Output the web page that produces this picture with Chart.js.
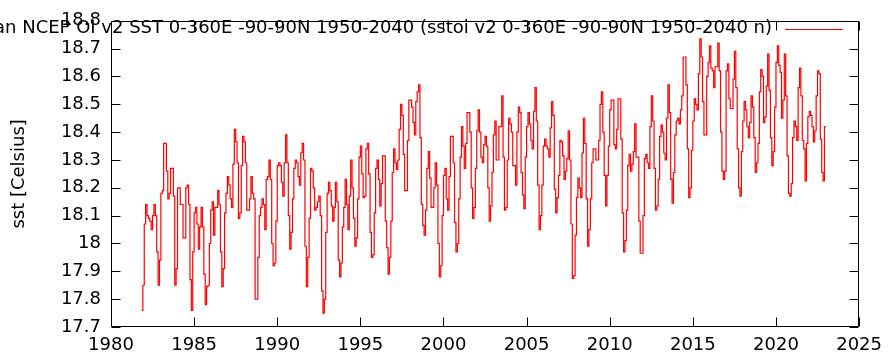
<!DOCTYPE html>
<html><head><meta charset="utf-8">
<script src="https://cdn.jsdelivr.net/npm/chart.js@4.4.1/dist/chart.umd.min.js"></script>
<style>html,body{margin:0;padding:0;background:#fff;overflow:hidden}canvas{display:block}</style>
</head><body>
<canvas id="c" width="890" height="358"></canvas>
<script>
// ---- data (monthly global mean SST) ----
const startYear = 1981, startMonth = 11;
const sstMonthly = [
  17.76, 17.85,
  18.07, 18.14, 18.10, 18.09, 18.08, 18.05, 18.10, 18.14, 18.10, 17.97, 17.85, 17.94,
  18.18, 18.19, 18.36, 18.36, 18.26, 18.16, 18.18, 18.27, 18.27, 18.17, 17.85, 17.91,
  18.20, 18.20, 18.14, 18.14, 18.02, 18.02, 18.20, 18.21, 18.14, 17.87, 17.76, 17.97,
  18.11, 18.13, 18.07, 17.98, 18.06, 18.13, 18.06, 17.89, 17.78, 17.845, 17.85, 18.00,
  18.12, 18.15, 18.03, 18.13, 18.13, 18.19, 18.14, 17.97, 17.845, 17.91, 18.11, 18.18,
  18.24, 18.21, 18.16, 18.13, 18.285, 18.41, 18.365, 18.29, 18.09, 18.11, 18.28, 18.385,
  18.365, 18.29, 18.12, 18.12, 18.16, 18.24, 18.18, 18.16, 17.80, 17.80, 17.95, 18.10,
  18.13, 18.16, 18.14, 18.05, 18.23, 18.24, 18.30, 18.23, 18.00, 17.92, 17.93, 18.08,
  18.28, 18.29, 18.28, 18.22, 18.17, 18.29, 18.39, 18.29, 18.10, 17.98, 18.04, 18.16,
  18.27, 18.30, 18.29, 18.24, 18.21, 18.325, 18.36, 18.30, 17.99, 17.845, 17.95, 18.09,
  18.27, 18.26, 18.20, 18.12, 18.13, 18.15, 18.17, 18.10, 17.83, 17.75, 17.80, 18.04,
  18.18, 18.22, 18.19, 18.135, 18.08, 18.13, 18.22, 18.15, 17.94, 17.88, 17.93, 18.06,
  18.13, 18.23, 18.14, 18.05, 18.17, 18.30, 18.20, 18.09, 17.99, 18.02, 18.16, 18.31,
  18.35, 18.25, 18.165, 18.17, 18.34, 18.36, 18.25, 18.04, 17.95, 17.96, 18.11, 18.27,
  18.30, 18.23, 18.135, 18.215, 18.315, 18.315, 18.08, 17.985, 17.89, 17.95, 18.08, 18.255,
  18.34, 18.29, 18.265, 18.30, 18.41, 18.50, 18.46, 18.32, 18.19, 18.19, 18.37, 18.515,
  18.515, 18.49, 18.435, 18.39, 18.51, 18.545, 18.57, 18.38, 18.14, 18.065, 18.03, 18.12,
  18.27, 18.33, 18.235, 18.13, 18.13, 18.20, 18.29, 18.21, 18.00, 17.88, 17.92, 18.10,
  18.245, 18.27, 18.16, 18.12, 18.24, 18.385, 18.385, 18.29, 18.075, 17.97, 18.00, 18.16,
  18.31, 18.42, 18.35, 18.27, 18.36, 18.47, 18.47, 18.40, 18.20, 18.09, 18.13, 18.27,
  18.405, 18.48, 18.40, 18.31, 18.29, 18.355, 18.385, 18.35, 18.20, 18.08, 18.135, 18.255,
  18.39, 18.44, 18.30, 18.30, 18.42, 18.42, 18.53, 18.31, 18.12, 18.13, 18.30, 18.45,
  18.43, 18.40, 18.28, 18.28, 18.21, 18.40, 18.49, 18.47, 18.255, 18.175, 18.125, 18.31,
  18.42, 18.47, 18.43, 18.37, 18.34, 18.475, 18.56, 18.44, 18.21, 18.05, 18.10, 18.21,
  18.35, 18.375, 18.35, 18.34, 18.31, 18.415, 18.51, 18.46, 18.195, 18.11, 18.165, 18.245,
  18.37, 18.365, 18.315, 18.23, 18.26, 18.305, 18.405, 18.30, 18.07, 17.875, 17.885, 18.03,
  18.165, 18.235, 18.20, 18.165, 18.325, 18.45, 18.36, 18.16, 17.99, 18.05, 18.16, 18.29,
  18.34, 18.34, 18.30, 18.30, 18.37, 18.50, 18.545, 18.40, 18.245, 18.135, 18.245, 18.35,
  18.48, 18.515, 18.515, 18.355, 18.34, 18.41, 18.52, 18.52, 18.375, 18.11, 17.97, 18.01,
  18.12, 18.28, 18.32, 18.26, 18.285, 18.33, 18.43, 18.31, 18.31, 18.08, 17.965, 17.965,
  18.10, 18.305, 18.32, 18.29, 18.27, 18.42, 18.53, 18.44, 18.27, 18.12, 18.135, 18.23,
  18.385, 18.425, 18.40, 18.325, 18.30, 18.45, 18.57, 18.47, 18.23, 18.145, 18.255, 18.39,
  18.44, 18.45, 18.43, 18.48, 18.53, 18.67, 18.67, 18.57, 18.34, 18.165, 18.20, 18.335,
  18.44, 18.52, 18.50, 18.48, 18.61, 18.735, 18.67, 18.51, 18.39, 18.39, 18.60, 18.65,
  18.71, 18.63, 18.62, 18.56, 18.635, 18.635, 18.72, 18.62, 18.40, 18.26, 18.23, 18.26,
  18.62, 18.645, 18.52, 18.485, 18.485, 18.59, 18.69, 18.56, 18.34, 18.20, 18.17, 18.33,
  18.44, 18.51, 18.48, 18.42, 18.38, 18.435, 18.53, 18.49, 18.38, 18.255, 18.29, 18.36,
  18.545, 18.625, 18.60, 18.435, 18.455, 18.565, 18.68, 18.55, 18.38, 18.28, 18.33, 18.49,
  18.65, 18.71, 18.64, 18.615, 18.45, 18.515, 18.68, 18.53, 18.315, 18.18, 18.17, 18.215,
  18.38, 18.44, 18.42, 18.37, 18.56, 18.63, 18.53, 18.37, 18.34, 18.225, 18.36, 18.455,
  18.475, 18.46, 18.42, 18.365, 18.405, 18.53, 18.62, 18.61, 18.375, 18.255, 18.225, 18.42
];
const xTicks = [1980, 1985, 1990, 1995, 2000, 2005, 2010, 2015, 2020, 2025];
const yTicks = [17.7, 17.8, 17.9, 18.0, 18.1, 18.2, 18.3, 18.4, 18.5, 18.6, 18.7, 18.8];
const yTickLabels = ['17.7','17.8','17.9','18','18.1','18.2','18.3','18.4','18.5','18.6','18.7','18.8'];
const seriesLabel = 'an NCEP OI v2 SST 0-360E -90-90N 1950-2040 (sstoi v2 0-360E -90-90N 1950-2040 n)';
const yTitle = 'sst [Celsius]';

// ---- build step points: each month spans [start, start+1/12] ----
const t0 = startYear + (startMonth - 1) / 12;
const points = sstMonthly.map((v, i) => ({ x: t0 + i / 12, y: v }));
points.push({ x: t0 + sstMonthly.length / 12, y: sstMonthly[sstMonthly.length - 1] });

const FONT = '"DejaVu Sans", sans-serif';
Chart.defaults.font.family = FONT;
Chart.defaults.font.size = 18;
Chart.defaults.color = '#000';

const frame = {
  id: 'frame',
  afterDatasetsDraw(chart) {
    const { ctx, chartArea: a, scales: { x, y } } = chart;
    const L = Math.round(a.left) + 0.5, R = Math.round(a.right) - 0.5;
    const T = Math.round(a.top) + 0.5, B = Math.round(a.bottom) - 0.5;
    const tl = 9;
    ctx.save();
    ctx.strokeStyle = '#000';
    ctx.lineWidth = 1;
    ctx.beginPath();
    ctx.rect(L, T, R - L, B - T);
    x.ticks.forEach(t => {
      const px = Math.round(x.getPixelForValue(t.value)) + 0.5;
      ctx.moveTo(px, B); ctx.lineTo(px, B - tl);
      ctx.moveTo(px, T); ctx.lineTo(px, T + tl);
    });
    y.ticks.forEach(t => {
      const py = Math.round(y.getPixelForValue(t.value)) + 0.5;
      ctx.moveTo(L, py); ctx.lineTo(L + tl, py);
      ctx.moveTo(R, py); ctx.lineTo(R - tl, py);
    });
    ctx.stroke();
    ctx.restore();
  }
};

const key = {
  id: 'key',
  beforeDatasetsDraw(chart) {
    const { ctx } = chart;
    ctx.save();
    ctx.font = '18px ' + FONT;
    ctx.fillStyle = '#000';
    ctx.textAlign = 'right';
    ctx.textBaseline = 'middle';
    ctx.fillText(chart.data.datasets[0].label, 772, 28);
    ctx.strokeStyle = '#ff0000';
    ctx.lineWidth = 1;
    ctx.beginPath();
    ctx.moveTo(785, 29.5);
    ctx.lineTo(843, 29.5);
    ctx.stroke();
    ctx.restore();
  }
};

new Chart(document.getElementById('c'), {
  type: 'line',
  data: {
    datasets: [{
      label: seriesLabel,
      data: points,
      borderColor: '#ff0000',
      borderWidth: 1.2,
      pointRadius: 0,
      stepped: 'before',
      tension: 0,
      fill: false
    }]
  },
  options: {
    responsive: false,
    devicePixelRatio: 1,
    animation: false,
    parsing: false,
    layout: { padding: { left: 0, right: 23, top: 10, bottom: 0 } },
    plugins: { legend: { display: false }, tooltip: { enabled: false }, title: { display: false } },
    scales: {
      x: {
        type: 'linear',
        min: 1980, max: 2025,
        grid: { display: false, drawTicks: false },
        border: { display: false },
        afterBuildTicks: s => { s.ticks = xTicks.map(v => ({ value: v })); },
        afterFit: s => { s.height = 31; },
        ticks: { autoSkip: false, maxRotation: 0, padding: 8, callback: v => String(v) }
      },
      y: {
        type: 'linear',
        min: 17.7, max: 18.8,
        grid: { display: false, drawTicks: false },
        border: { display: false },
        afterBuildTicks: s => { s.ticks = yTicks.map(v => ({ value: v })); },
        afterFit: s => { s.width = 111; },
        ticks: {
          autoSkip: false, padding: 10,
          callback: v => { const i = yTicks.findIndex(t => Math.abs(t - v) < 1e-6); return i >= 0 ? yTickLabels[i] : ''; }
        },
        title: { display: true, text: yTitle, font: { size: 18 }, padding: { top: 9, bottom: 0 } }
      }
    }
  },
  plugins: [key, frame]
});
</script>
</body></html>
